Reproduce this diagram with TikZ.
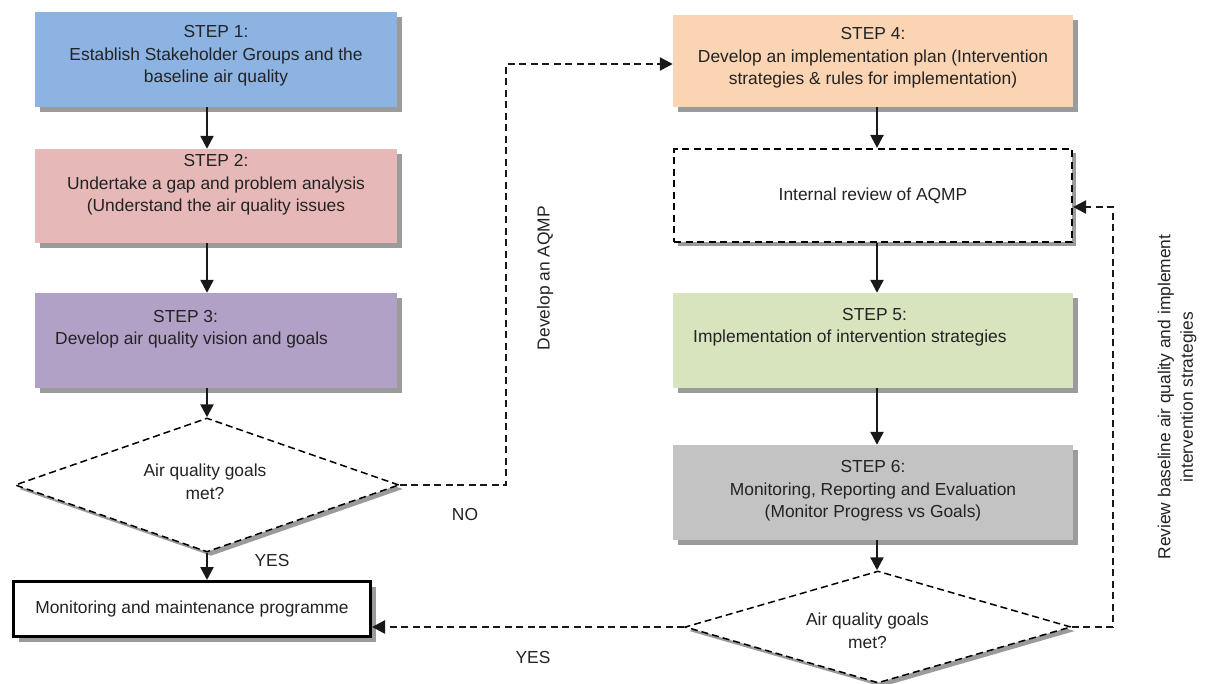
\documentclass[tikz,border=0pt]{standalone}
\usepackage{fontspec}
\setmainfont{Liberation Sans}
\usetikzlibrary{shapes.geometric,shadows,arrows.meta,calc}
\definecolor{cA}{RGB}{141,179,226}
\definecolor{cB}{RGB}{230,185,184}
\definecolor{cC}{RGB}{178,161,199}
\definecolor{cD}{RGB}{251,212,180}
\definecolor{cE}{RGB}{215,228,189}
\definecolor{cF}{RGB}{195,195,195}
\definecolor{shgray}{RGB}{155,155,155}
\definecolor{txt}{RGB}{35,35,35}
\begin{document}
\begin{tikzpicture}[x=1pt,y=-1pt,
  every node/.style={font=\fontsize{17.4}{22.5}\selectfont, text=txt, inner sep=0pt},
  stepbox/.style={draw=none, minimum width=362pt, minimum height=95pt,
    drop shadow={shadow xshift=5pt, shadow yshift=-5pt, fill=shgray, opacity=1}},
  rbox/.style={stepbox, minimum width=400pt},
  lbl/.style={align=center},
  lbll/.style={align=left, anchor=west},
  dia/.style={diamond, draw=black, fill=white, line width=1.5pt, dash pattern=on 7pt off 4pt,
    drop shadow={shadow xshift=4pt, shadow yshift=-4pt, fill=shgray, opacity=1}},
  arr/.style={line width=2.4pt, draw=black!90, -{Triangle[width=13pt,length=13pt]}},
  darr/.style={line width=2.4pt, draw=black!90, dash pattern=on 7pt off 4.5pt, -{Triangle[width=13pt,length=13pt]}},
]
\useasboundingbox (0,0) rectangle (1213,683);

% left column
\node[stepbox, fill=cA] (s1) at (216,59.5) {};
\node[lbl] (t1) at (216,56) {STEP 1:\\Establish Stakeholder Groups and the\\baseline air quality};
\node[stepbox, fill=cB, minimum height=94pt] (s2) at (216,196) {};
\node[lbl] (t2) at (216,185) {STEP 2:\\Undertake a gap and problem analysis\\(Understand the air quality issues};
\node[stepbox, fill=cC] (s3) at (216,340.5) {};
\node[lbll] (t3) at (55,329) {\hspace*{98pt}STEP 3:\\Develop air quality vision and goals};
\node[dia, minimum width=384pt, minimum height=134pt] (d1) at (207,485) {};
\node[lbl] (d1t) at (205,482) {Air quality goals\\met?};
\node[draw=black, line width=3pt, fill=white, minimum width=357pt, minimum height=55pt,
  drop shadow={shadow xshift=5pt, shadow yshift=-5pt, fill=shgray, opacity=1}] (mon) at (192,609) {Monitoring and maintenance programme};

% right column
\node[rbox, fill=cD, minimum height=92pt] (s4) at (873,61) {};
\node[lbl] (t4) at (873,58) {STEP 4:\\Develop an implementation plan (Intervention\\strategies \& rules for implementation)};
\node[draw=black, line width=2.2pt, dash pattern=on 7pt off 4.5pt, fill=white, minimum width=398pt, minimum height=93pt,
  drop shadow={shadow xshift=4pt, shadow yshift=-4pt, fill=shgray, opacity=1}] (ir) at (873,195.5) {Internal review of AQMP};
\node[rbox, fill=cE] (s5) at (873,340.5) {};
\node[lbll] (t5) at (693,327) {\hspace*{149pt}STEP 5:\\Implementation of intervention strategies};
\node[rbox, fill=cF] (s6) at (873,492.5) {};
\node[lbl] (t6) at (873,491) {STEP 6:\\Monitoring, Reporting and Evaluation\\(Monitor Progress vs Goals)};
\node[dia, minimum width=386pt, minimum height=112pt] (d2) at (878,627) {};
\node[lbl] (d2t) at (867.5,631) {Air quality goals\\met?};

% helper coordinates
\coordinate (colL) at (207,0);
\coordinate (colR) at (877,0);
\coordinate (k1) at (506,64);
\coordinate (k2) at (1113,207);

% solid arrows
\draw[arr] (s1.south -| colL) -- (s2.north -| colL);
\draw[arr] (s2.south -| colL) -- (s3.north -| colL);
\draw[arr] (s3.south -| colL) -- (d1.north);
\draw[arr] (d1.south) -- (mon.north -| colL);
\draw[arr] (s4.south -| colR) -- (ir.north -| colR);
\draw[arr] (ir.south -| colR) -- (s5.north -| colR);
\draw[arr] (s5.south -| colR) -- (s6.north -| colR);
\draw[arr] (s6.south -| colR) -- (d2.north -| colR);

% dashed arrows
\draw[darr] (d1.east) -| (k1) -- (s4.west |- k1);
\draw[darr] (d2.west) -- (mon.east |- d2.west);
\draw[darr] (d2.east) -| (k2) -- (ir.east |- k2);

% labels
\node (no) at (465,515) {NO};
\node (yes1) at (272,561) {YES};
\node (yes2) at (533,658) {YES};
\node[rotate=90] (dev) at (545,278) {Develop an AQMP};
\node[rotate=90, align=center] (rev) at (1177,397) {Review baseline air quality and implement\\intervention strategies};
\end{tikzpicture}
\end{document}
